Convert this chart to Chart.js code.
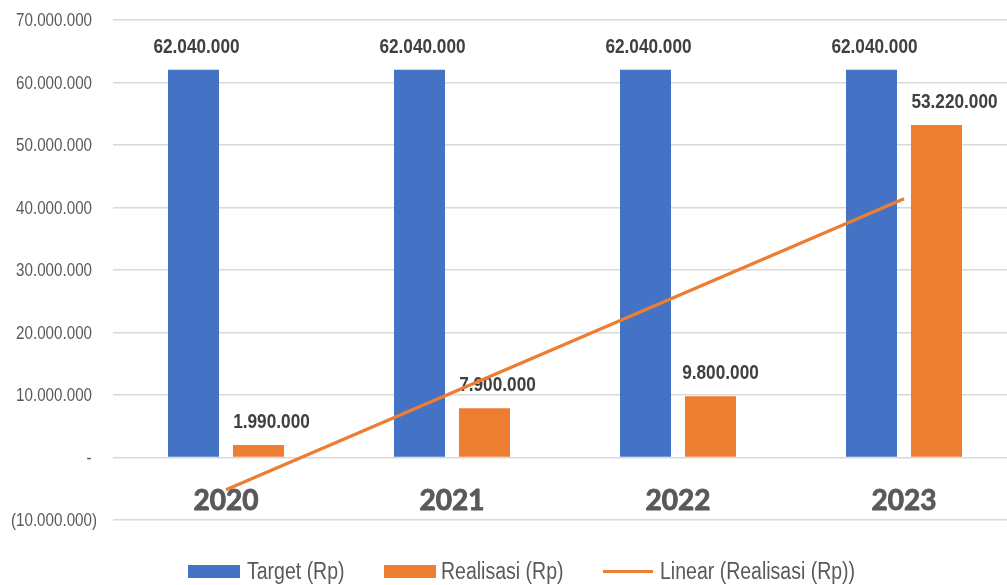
<!DOCTYPE html>
<html>
<head>
<meta charset="utf-8">
<script src="https://cdn.jsdelivr.net/npm/chart.js@4.4.1/dist/chart.umd.min.js"></script>
<style>
  html, body { margin: 0; padding: 0; background: #ffffff; overflow: hidden; width: 1007px; height: 585px; }
  #wrap { position: absolute; left: 0; top: 0; width: 1030px; height: 585px; }
  .lg { position: absolute; font-family: 'Liberation Sans', Arial, sans-serif; font-size: 23.5px; color: #595959; line-height: 24px; white-space: nowrap; transform: scaleX(0.83); transform-origin: 0 50%; }
  .sw { position: absolute; }
</style>
</head>
<body>
<div id="wrap"><canvas id="c" width="1030" height="585"></canvas></div>
<div class="sw" style="left:188px;top:565px;width:52px;height:13px;background:#4472C4"></div>
<div class="lg" style="left:247px;top:559px">Target (Rp)</div>
<div class="sw" style="left:384px;top:565px;width:52px;height:13px;background:#ED7D31"></div>
<div class="lg" style="left:441px;top:559px">Realisasi (Rp)</div>
<div class="sw" style="left:603px;top:570px;width:50px;height:3px;background:#ED7D31"></div>
<div class="lg" style="left:660px;top:559px">Linear (Realisasi (Rp))</div>
<script>
// ---- data ----
const categories = ['2020', '2021', '2022', '2023'];
const targetValues = [62040000, 62040000, 62040000, 62040000];
const realisasiValues = [1990000, 7900000, 9800000, 53220000];
const trendValues = [-5170000, 10350000, 25880000, 41400000];
const yMin = -10000000;
const yMax = 70000000;
const yStep = 10000000;

// ---- style ----
const BLUE = '#4472C4';
const ORANGE = '#ED7D31';
const NARROW = 0.82;
const realLabelShift = [13, 13, 10, 18];
const targetLabelShift = [3, 3, 3, 3];

function fmt(n) {
  return String(Math.abs(Math.round(n))).replace(/\B(?=(\d{3})+(?!\d))/g, '.');
}
function tickLabel(v) {
  if (v === 0) return '-';
  if (v < 0) return '(' + fmt(v) + ')';
  return fmt(v);
}

function narrowText(ctx, text, x, y) {
  ctx.save();
  ctx.translate(x, y);
  ctx.scale(NARROW, 1);
  ctx.fillText(text, 0, 0);
  ctx.restore();
}

const yTickPlugin = {
  id: 'yTickLabels',
  beforeDatasetsDraw(chart) {
    const ctx = chart.ctx;
    const ys = chart.scales.y;
    ctx.save();
    ctx.font = '18.5px "Liberation Sans", Arial, sans-serif';
    ctx.fillStyle = '#595959';
    ctx.textAlign = 'right';
    ctx.textBaseline = 'middle';
    ys.ticks.forEach(t => {
      const v = t.value;
      const y = ys.getPixelForValue(v) + 1;
      let xr = 92;
      if (v < 0) xr = 97;
      if (v === 0) xr = 91.5;
      narrowText(ctx, tickLabel(v), xr, y);
    });
    ctx.restore();
  }
};

const labelsPlugin = {
  id: 'barLabels',
  beforeDatasetsDraw(chart) {
    const ctx = chart.ctx;
    ctx.save();
    ctx.font = 'bold 21px "Liberation Sans", Arial, sans-serif';
    ctx.fillStyle = '#404040';
    ctx.textAlign = 'center';
    ctx.textBaseline = 'middle';
    [0, 1].forEach(di => {
      const meta = chart.getDatasetMeta(di);
      const vals = chart.data.datasets[di].data;
      const shifts = di === 0 ? targetLabelShift : realLabelShift;
      meta.data.forEach((bar, i) => {
        narrowText(ctx, fmt(vals[i]), bar.x + shifts[i], bar.y - 23);
      });
    });
    ctx.restore();
  }
};

const yearPlugin = {
  id: 'yearLabels',
  afterDatasetsDraw(chart) {
    const ctx = chart.ctx;
    const xs = chart.scales.x;
    const ys = chart.scales.y;
    const y0 = ys.getPixelForValue(0);
    ctx.save();
    ctx.font = 'bold 28px Lato, "Open Sans", sans-serif';
    ctx.fillStyle = '#595959';
    ctx.strokeStyle = '#595959';
    ctx.lineWidth = 0.9;
    ctx.lineJoin = 'round';
    ctx.textAlign = 'center';
    ctx.textBaseline = 'alphabetic';
    chart.data.labels.forEach((lab, i) => {
      const x = xs.getPixelForValue(i);
      ctx.fillText(lab, x, y0 + 52);
      ctx.strokeText(lab, x, y0 + 52);
    });
    ctx.restore();
  }
};

new Chart(document.getElementById('c'), {
  data: {
    labels: categories,
    datasets: [
      { type: 'bar', label: 'Target (Rp)', data: targetValues, backgroundColor: BLUE, borderWidth: 0,
        categoryPercentage: 0.575, barPercentage: 0.785, order: 2 },
      { type: 'bar', label: 'Realisasi (Rp)', data: realisasiValues, backgroundColor: ORANGE, borderWidth: 0,
        categoryPercentage: 0.575, barPercentage: 0.785, order: 2 },
      { type: 'line', label: 'Linear (Realisasi (Rp))', data: trendValues, borderColor: ORANGE, borderWidth: 3.4,
        pointRadius: 0, pointHoverRadius: 0, tension: 0, fill: false, order: 1, borderCapStyle: 'butt' }
    ]
  },
  options: {
    responsive: false,
    animation: false,
    devicePixelRatio: 1,
    layout: { padding: { left: 0, right: 13, top: 20, bottom: 65 } },
    plugins: { legend: { display: false }, tooltip: { enabled: false } },
    scales: {
      x: { type: 'category', display: false, offset: true, grid: { display: false } },
      y: {
        min: yMin, max: yMax,
        ticks: { stepSize: yStep, display: false },
        grid: { color: '#d9d9d9', lineWidth: 1.5, drawTicks: false },
        border: { display: false },
        afterFit(s) { s.width = 113; s.paddingTop = 0; s.paddingBottom = 0; }
      }
    }
  },
  plugins: [yTickPlugin, labelsPlugin, yearPlugin]
});
</script>
</body>
</html>
